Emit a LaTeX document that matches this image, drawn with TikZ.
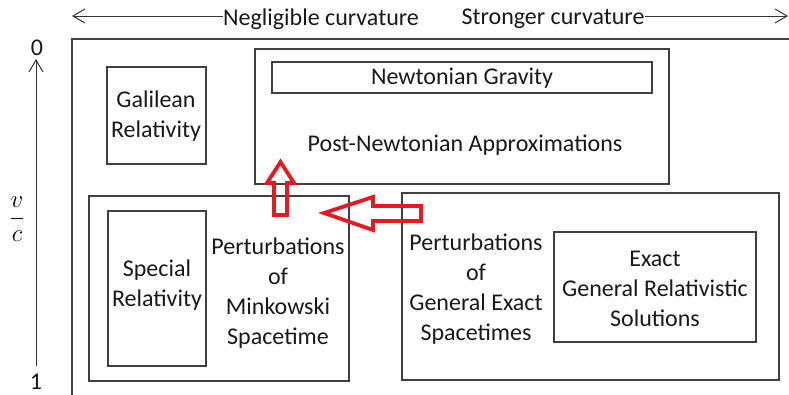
\documentclass[tikz,border=0pt]{standalone}
\usepackage{fontspec}
\setmainfont{Carlito}
\usetikzlibrary{arrows.meta}
\definecolor{arrred}{RGB}{230,25,35}
\tikzset{
  box/.style={draw=black!75, line width=1.1pt, inner sep=0pt},
  lbl/.style={font=\fontsize{24}{30}\selectfont, align=center, inner sep=0pt, text=black!90},
  axis/.style={draw=black!80, line width=1pt, -{Straight Barb[length=12pt,width=14pt,line width=1pt]}},
  blockarrow/.style={draw=arrred, line width=3.8pt, line join=miter}
}
\begin{document}
\begin{tikzpicture}[x=1pt,y=-1pt]
\useasboundingbox (0,0) rectangle (789,394);
\begin{scope}
\clip (0,0) rectangle (789,394);
% outer frame
\node[box, minimum width=728pt, minimum height=361pt] (outer) at (436,219.5) {};
% boxes
\node[box, minimum width=99pt, minimum height=97pt] (gal) at (156.5,115.5) {};
\node[box, minimum width=414pt, minimum height=135pt] (pn) at (462,116.5) {};
\node[box, minimum width=380pt, minimum height=31pt] (newt) at (462,77.5) {};
\node[box, minimum width=260pt, minimum height=185pt] (lb) at (219,288.5) {};
\node[box, minimum width=98pt, minimum height=155pt] (sr) at (157,288.5) {};
\node[box, minimum width=377pt, minimum height=187pt] (rb) at (590.5,286.5) {};
\node[box, minimum width=202pt, minimum height=110pt] (ex) at (655,287) {};
% texts
\node[lbl] (galt) at (156,116) {Galilean\\Relativity};
\node[lbl] (newtt) at (462,78) {Newtonian Gravity};
\node[lbl] (pnt) at (465,145) {Post-Newtonian Approximations};
\node[lbl] (srt) at (157,285) {Special\\Relativity};
\node[lbl] (pmt) at (278,293) {Perturbations\\of\\Minkowski\\Spacetime};
\node[lbl] (pgt) at (476,289) {Perturbations\\of\\General Exact\\Spacetimes};
\node[lbl] (ext) at (655,289) {Exact\\General Relativistic\\Solutions};
% axes
\node[lbl] (neg) at (321,19) {Negligible curvature};
\node[lbl] (stg) at (553,19) {Stronger curvature};
\coordinate (tl) at (72,16);
\coordinate (tr) at (788,16);
\draw[axis] (neg.west |- tl) -- (tl);
\draw[axis] (stg.east |- tr) -- (tr);
\node[lbl] (zero) at (37,48) {0};
\node[lbl] (one) at (36,382) {1};
\coordinate (vb) at (36,366);
\coordinate (vt) at (36,59);
\draw[axis] (vb) -- (vt);
\node[inner sep=0pt] (vc) at (17,219) {\fontsize{28}{30}\selectfont$\displaystyle\frac{v}{c}$};
% red block arrows
\draw[blockarrow] (280.5,162) -- (294,183) -- (287,183) -- (287,215) -- (274,215) -- (274,183) -- (267,183) -- cycle;
\draw[blockarrow] (324,213) -- (373,197) -- (373,206) -- (421,206) -- (421,221) -- (373,221) -- (373,230) -- cycle;
\end{scope}
\end{tikzpicture}
\end{document}
